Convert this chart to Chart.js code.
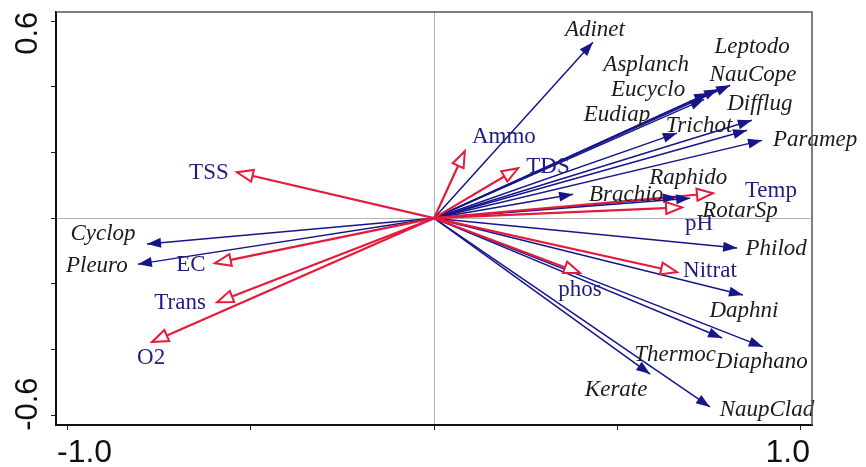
<!DOCTYPE html>
<html>
<head>
<meta charset="utf-8">
<script src="https://cdn.jsdelivr.net/npm/chart.js@4"></script>
<style>
  html, body { margin: 0; padding: 0; background: #fff; }
  #wrap { width: 866px; height: 467px; }
</style>
</head>
<body>
<div id="wrap"><canvas id="biplot" width="866" height="467"></canvas></div>
<script>
// species scores (blue arrows)
const speciesNames = ['Adinet', 'Asplanch', 'Leptodo', 'NauCope', 'Eucyclo', 'Difflug', 'Eudiap', 'Trichot',
  'Paramep', 'Brachio', 'Raphido', 'RotarSp', 'Philod', 'Daphni', 'Diaphano', 'Thermoc', 'Kerate', 'NaupClad',
  'Cyclop', 'Pleuro'];
const speciesX = [0.433, 0.747, 0.807, 0.774, 0.736, 0.866, 0.662, 0.853,
  0.894, 0.379, 0.698, 0.662, 0.826, 0.842, 0.896, 0.785, 0.589, 0.752,
  -0.782, -0.807];
const speciesY = [0.536, 0.381, 0.405, 0.393, 0.362, 0.298, 0.259, 0.268,
  0.237, 0.073, 0.061, 0.064, -0.091, -0.234, -0.392, -0.365, -0.475, -0.575,
  -0.079, -0.140];

// environmental variables (red arrows)
const envNames = ['TSS', 'EC', 'Trans', 'O2', 'Ammo', 'TDS', 'Temp', 'pH', 'Nitrat', 'phos'];
const envX = [-0.537, -0.597, -0.591, -0.768, 0.084, 0.229, 0.760, 0.676, 0.662, 0.398];
const envY = [0.140, -0.137, -0.256, -0.377, 0.204, 0.152, 0.076, 0.033, -0.164, -0.167];

const xTicks = [-1, -0.5, 0, 0.5, 1];
const yTicks = [-0.6, -0.4, -0.2, 0, 0.2, 0.4, 0.6];
const xTickLabels = ['-1.0', '', '', '', '1.0'];
const yTickLabels = ['-0.6', '', '', '', '', '', '0.6'];

// label nudges from the arrow tip, in pixels (layout only)
const speciesLabelShift = [[2, -12], [-62, -28], [22, -38], [35, -14], [-56, -9], [8, -16], [-60, -18], [-48, -4],
  [53, 0], [53, 1], [-2, -20], [63, 14], [39, 1], [1, 16], [-1, 15], [-47, 17], [-34, 16], [57, 3],
  [-44, -10], [-41, 2]];
const envLabelShift = [[-28, 1], [-24, 2], [-37, 1], [-1, 16], [39, -14], [30, -1], [58, -2], [17, 17], [33, -1], [0, 17]];

const BLUE = '#16168a';
const RED = '#e41b3c';
const NAVY = '#1e1e7e';
const TICK_FONT = '32px "Liberation Sans", Arial, sans-serif';

const datasets = [];
envNames.forEach((n, i) => datasets.push({
  label: n, group: 'env', shift: envLabelShift[i],
  data: [{ x: 0, y: 0 }, { x: envX[i], y: envY[i] }],
  showLine: true, borderColor: RED, borderWidth: 2.2, pointRadius: 0, pointHoverRadius: 0
}));
speciesNames.forEach((n, i) => datasets.push({
  label: n, group: 'sp', shift: speciesLabelShift[i],
  data: [{ x: 0, y: 0 }, { x: speciesX[i], y: speciesY[i] }],
  showLine: true, borderColor: BLUE, borderWidth: 1.5, pointRadius: 0, pointHoverRadius: 0
}));

const arrowPlugin = {
  id: 'arrows',
  afterDatasetsDraw(chart) {
    const ctx = chart.ctx;
    const metas = chart.data.datasets.map((ds, i) => [ds, chart.getDatasetMeta(i).data]);
    // blue heads first, red heads on top
    ['sp', 'env'].forEach(group => {
      metas.filter(([ds]) => ds.group === group).forEach(([ds, pts]) => {
        const a = pts[0], b = pts[1];
        const ang = Math.atan2(b.y - a.y, b.x - a.x);
        ctx.save();
        ctx.translate(b.x, b.y);
        ctx.rotate(ang);
        ctx.beginPath();
        if (group === 'env') {
          ctx.moveTo(0, 0); ctx.lineTo(-16, -6); ctx.lineTo(-16, 6); ctx.closePath();
          ctx.fillStyle = '#fff'; ctx.fill();
          ctx.strokeStyle = RED; ctx.lineWidth = 2; ctx.lineJoin = 'miter'; ctx.stroke();
        } else {
          ctx.moveTo(0, 0); ctx.lineTo(-14, -5); ctx.lineTo(-14, 5); ctx.closePath();
          ctx.fillStyle = BLUE; ctx.fill();
        }
        ctx.restore();
      });
    });
    // labels
    ctx.save();
    ctx.textAlign = 'center';
    ctx.textBaseline = 'middle';
    metas.forEach(([ds, pts]) => {
      const b = pts[1];
      if (ds.group === 'env') {
        ctx.font = '23px "Liberation Serif", "Times New Roman", serif';
        ctx.fillStyle = NAVY;
      } else {
        ctx.font = 'italic 23px "Liberation Serif", "Times New Roman", serif';
        ctx.fillStyle = '#1c1c1c';
      }
      ctx.fillText(ds.label, b.x + ds.shift[0], b.y + ds.shift[1]);
    });
    ctx.restore();
  },
  afterDraw(chart) {
    const { ctx, chartArea: c, scales } = chart;
    ctx.save();
    // top and right frame
    ctx.beginPath();
    ctx.strokeStyle = '#555';
    ctx.lineWidth = 1.5;
    ctx.moveTo(c.left, c.top); ctx.lineTo(c.right, c.top); ctx.lineTo(c.right, c.bottom);
    ctx.stroke();
    // end tick labels, pulled inside the frame like the original
    ctx.fillStyle = '#111';
    ctx.font = TICK_FONT;
    ctx.textBaseline = 'alphabetic';
    xTicks.forEach((v, i) => {
      if (!xTickLabels[i]) return;
      const px = scales.x.getPixelForValue(v);
      ctx.textAlign = v < 0 ? 'left' : 'right';
      ctx.fillText(xTickLabels[i], v < 0 ? px - 10 : px + 9, 462);
    });
    ctx.font = '31px "Liberation Sans", Arial, sans-serif';
    yTicks.forEach((v, i) => {
      if (!yTickLabels[i]) return;
      const py = scales.y.getPixelForValue(v) + (v > 0 ? 12 : -11);
      ctx.save();
      ctx.translate(37, py);
      ctx.rotate(-Math.PI / 2);
      ctx.textAlign = 'center';
      ctx.fillText(yTickLabels[i], 0, 0);
      ctx.restore();
    });
    ctx.restore();
  }
};

const zeroOnly = c => (c.tick && c.tick.value === 0) ? '#b4b4b4' : 'rgba(0,0,0,0)';

new Chart(document.getElementById('biplot'), {
  type: 'scatter',
  data: { datasets },
  plugins: [arrowPlugin],
  options: {
    responsive: false,
    animation: false,
    layout: { padding: { top: 12, right: 54, left: 0, bottom: 0 } },
    plugins: { legend: { display: false }, tooltip: { enabled: false } },
    scales: {
      x: {
        type: 'linear', min: -1.03, max: 1.03,
        afterBuildTicks: s => { s.ticks = xTicks.map(v => ({ value: v })); },
        afterFit: s => { s.height = 42; s.paddingLeft = 0; s.paddingRight = 0; },
        border: { display: true, color: '#111', width: 2 },
        grid: { color: zeroOnly, lineWidth: 1, tickColor: '#222', tickLength: 5, drawTicks: true },
        ticks: { display: false }
      },
      y: {
        type: 'linear', min: -0.63, max: 0.628,
        afterBuildTicks: s => { s.ticks = yTicks.map(v => ({ value: v })); },
        afterFit: s => { s.width = 56; s.paddingTop = 0; s.paddingBottom = 0; },
        border: { display: true, color: '#111', width: 2 },
        grid: { color: zeroOnly, lineWidth: 1, tickColor: '#222', tickLength: 5, drawTicks: true },
        ticks: { display: false }
      }
    }
  }
});
</script>
</body>
</html>
